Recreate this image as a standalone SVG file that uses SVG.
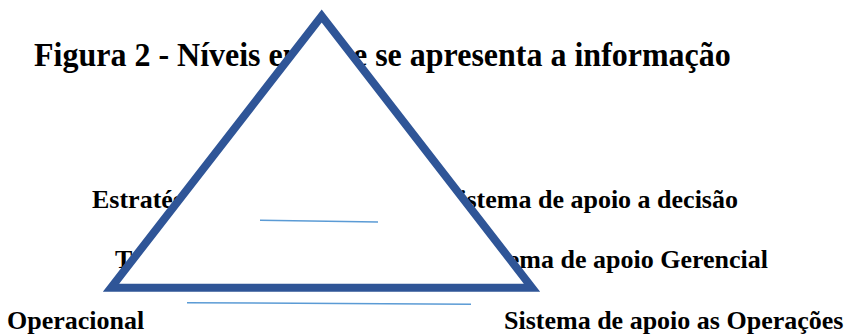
<svg xmlns="http://www.w3.org/2000/svg" width="853" height="334" viewBox="0 0 853 334">
  <style>
    .t { font-family: "Liberation Serif", "Times New Roman", serif; font-weight: bold; fill: #000; }
    .lbl { font-size: 26px; }
    .title { font-size: 32px; }
    .thin { stroke: #5B9BD5; stroke-width: 1.5; fill: none; }
  </style>
  <rect width="853" height="334" fill="#fff"/>
  <g id="title">
    <text class="t title" transform="translate(34,66) scale(1,1.07)" x="0" y="0">Figura 2 - Níveis em que se apresenta a informação</text>
  </g>
  <g id="labels">
    <text class="t lbl" x="92" y="208">Estratégico</text>
    <text class="t lbl" x="738" y="208" text-anchor="end">Sistema de apoio a decisão</text>
    <text class="t lbl" x="115" y="268">Tático</text>
    <text class="t lbl" x="768" y="268" text-anchor="end">Sistema de apoio Gerencial</text>
    <text class="t lbl" x="7" y="329">Operacional</text>
    <text class="t lbl" x="504" y="329">Sistema de apoio as Operações</text>
  </g>
  <g id="triangle">
    <polygon points="321.7,16 111,287.7 532,287.7" fill="#fff" stroke="#2F5597" stroke-width="8" stroke-linejoin="miter" stroke-miterlimit="10"/>
  </g>
  <g id="lines">
    <line class="thin" x1="260" y1="220.3" x2="378" y2="222"/>
    <line class="thin" x1="187" y1="302.7" x2="471" y2="304.3"/>
  </g>
</svg>
